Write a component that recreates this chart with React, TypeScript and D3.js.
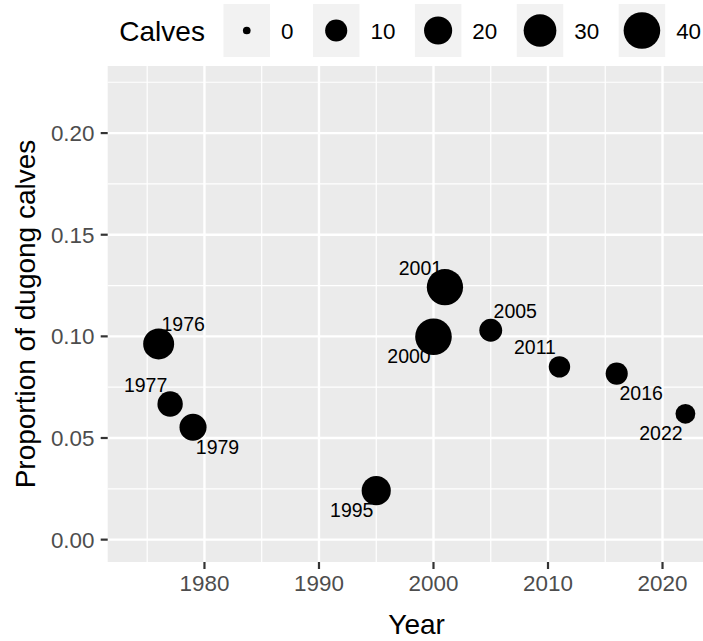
import React from "react";
import * as d3 from "d3";

// ---- data ----
const years = [1976, 1977, 1979, 1995, 2000, 2001, 2005, 2011, 2016, 2022];
const proportions = [0.0963, 0.0667, 0.0553, 0.0241, 0.0998, 0.1242, 0.103, 0.085, 0.0817, 0.0619];
const calves = [26, 15, 18, 22, 40, 39, 11, 9, 10, 7];
const labelSides = ["NE", "NW", "SE", "SW", "SW", "NW", "NE", "NW", "SE", "SW"];
const legendBreaks = [0, 10, 20, 30, 40];
const xTicks = [1980, 1990, 2000, 2010, 2020];
const xMinor = [1975, 1985, 1995, 2005, 2015, 2025];
const yTicks = [0, 0.05, 0.1, 0.15, 0.2];
const yMinor = [0.025, 0.075, 0.125, 0.175, 0.225];

const W = 703;
const H = 641;
const FONT = "'Liberation Sans', Arial, Helvetica, sans-serif";

export default function App() {
  const panel = { left: 107.7, right: 725.5, top: 66, bottom: 562 };
  const x = d3.scaleLinear().domain([1971.55, 2025.5]).range([panel.left, panel.right]);
  const y = d3.scaleLinear().domain([-0.011, 0.233]).range([panel.bottom, panel.top]);
  const sizeT = d3.scaleSqrt().domain([0, 40]).range([0, 1]);
  const rLin = d3.scaleLinear().domain([0, 1]).range([3.85, 18.3]);
  const r = (v: number) => rLin(sizeT(v));

  const tickFont = 22.4;
  const titleFont = 28;
  const labelFont = 19.5;
  const digitW = 0.556 * tickFont;

  // legend layout
  const keyW = 46.5;
  const keyTop = 4;
  const keyH = 53;
  const keyCy = keyTop + keyH / 2;
  let cursor = 223.5;
  const legendItems = legendBreaks.map((b) => {
    const kx = cursor;
    const lx = kx + keyW + 11;
    const lw = String(b).length * digitW;
    cursor = lx + lw + 19.5;
    return { b, kx, lx };
  });

  const dxLab = 24.5;
  const dyLab = 19.5;

  return (
    <svg
      width={W}
      height={H}
      style={{ position: "absolute", left: 0, top: 0, background: "#fff" }}
      fontFamily={FONT}
    >
      <rect x={0} y={0} width={W} height={H} fill="#fff" />
      {/* panel */}
      <rect
        x={panel.left}
        y={panel.top}
        width={panel.right - panel.left}
        height={panel.bottom - panel.top}
        fill="#EBEBEB"
      />
      {/* minor grid */}
      {xMinor.map((t) => (
        <line key={"xm" + t} x1={x(t)} x2={x(t)} y1={panel.top} y2={panel.bottom} stroke="#fff" strokeWidth={1.2} />
      ))}
      {yMinor.map((t) => (
        <line key={"ym" + t} x1={panel.left} x2={panel.right} y1={y(t)} y2={y(t)} stroke="#fff" strokeWidth={1.2} />
      ))}
      {/* major grid */}
      {xTicks.map((t) => (
        <line key={"xg" + t} x1={x(t)} x2={x(t)} y1={panel.top} y2={panel.bottom} stroke="#fff" strokeWidth={2.4} />
      ))}
      {yTicks.map((t) => (
        <line key={"yg" + t} x1={panel.left} x2={panel.right} y1={y(t)} y2={y(t)} stroke="#fff" strokeWidth={2.4} />
      ))}

      {/* points */}
      {years.map((yr, i) => (
        <circle key={"p" + yr} cx={x(yr)} cy={y(proportions[i])} r={r(calves[i])} fill="#000" />
      ))}
      {/* labels */}
      {years.map((yr, i) => {
        const side = labelSides[i];
        const dx = side.includes("E") ? dxLab : -dxLab;
        const dy = side.includes("N") ? -dyLab : dyLab;
        return (
          <text
            key={"l" + yr}
            x={x(yr) + dx}
            y={y(proportions[i]) + dy + labelFont * 0.36}
            textAnchor="middle"
            fontSize={labelFont}
            fill="#000"
          >
            {yr}
          </text>
        );
      })}

      {/* x axis */}
      {xTicks.map((t) => (
        <g key={"xt" + t}>
          <line x1={x(t)} x2={x(t)} y1={panel.bottom} y2={panel.bottom + 7} stroke="#333" strokeWidth={2.2} />
          <text x={x(t)} y={panel.bottom + 29} textAnchor="middle" fontSize={tickFont} fill="#4D4D4D">
            {t}
          </text>
        </g>
      ))}
      {/* y axis */}
      {yTicks.map((t) => (
        <g key={"yt" + t}>
          <line x1={panel.left - 7} x2={panel.left} y1={y(t)} y2={y(t)} stroke="#333" strokeWidth={2.2} />
          <text x={94.5} y={y(t) + tickFont * 0.36} textAnchor="end" fontSize={tickFont} fill="#4D4D4D">
            {d3.format(".2f")(t)}
          </text>
        </g>
      ))}
      {/* axis titles */}
      <text
        x={(panel.left + panel.right) / 2}
        y={634}
        textAnchor="middle"
        fontSize={titleFont}
        fill="#000"
      >
        Year
      </text>
      <text
        transform={`translate(35, ${(panel.top + panel.bottom) / 2}) rotate(-90)`}
        textAnchor="middle"
        fontSize={titleFont}
        fill="#000"
      >
        Proportion of dugong calves
      </text>

      {/* legend */}
      <text x={119.3} y={keyCy + titleFont * 0.36} fontSize={titleFont} fill="#000">
        Calves
      </text>
      {legendItems.map(({ b, kx, lx }) => (
        <g key={"lg" + b}>
          <rect x={kx} y={keyTop} width={keyW} height={keyH} fill="#F2F2F2" />
          <circle cx={kx + keyW / 2} cy={keyCy} r={r(b)} fill="#000" />
          <text x={lx} y={keyCy + tickFont * 0.36} fontSize={tickFont} fill="#000">
            {b}
          </text>
        </g>
      ))}
    </svg>
  );
}
